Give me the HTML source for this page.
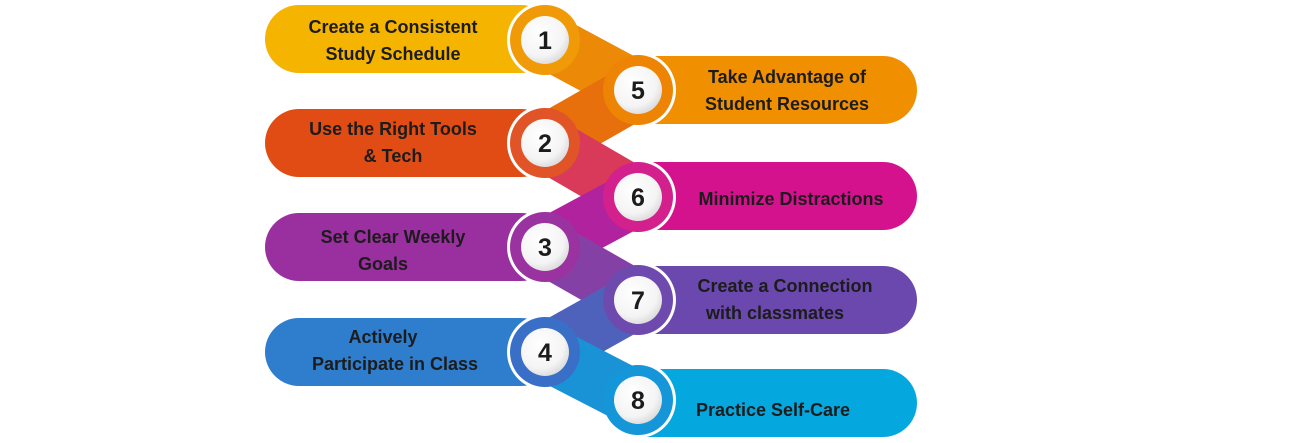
<!DOCTYPE html>
<html><head><style>
html,body{margin:0;padding:0;background:#fff;}
svg{display:block;}
text{font-family:"Liberation Sans",sans-serif;font-weight:bold;fill:#1c1c1c;}
</style></head><body>
<svg width="1296" height="443" viewBox="0 0 1296 443">
<defs>
<radialGradient id="wg" cx="40%" cy="35%" r="70%"><stop offset="0" stop-color="#ffffff"/><stop offset="0.7" stop-color="#f4f4f4"/><stop offset="1" stop-color="#d8d8d8"/></radialGradient>
</defs>
<rect x="265" y="5" width="290" height="68" rx="34" fill="#f4b400"/>
<rect x="265" y="109" width="290" height="68" rx="34" fill="#e04c14"/>
<rect x="265" y="213" width="290" height="68" rx="34" fill="#9a2f9f"/>
<rect x="265" y="318" width="290" height="68" rx="34" fill="#2f7dcd"/>
<rect x="610" y="56" width="307" height="68" rx="34" fill="#f09000"/>
<rect x="610" y="162" width="307" height="68" rx="34" fill="#d4128e"/>
<rect x="610" y="266" width="307" height="68" rx="34" fill="#6a48ad"/>
<rect x="610" y="369" width="307" height="68" rx="34" fill="#04a8df"/>
<g fill="#fff">
<circle cx="545" cy="40" r="38"/><circle cx="638" cy="90" r="38"/>
<circle cx="545" cy="143" r="38"/><circle cx="638" cy="197" r="38"/>
<circle cx="545" cy="247" r="38"/><circle cx="638" cy="300" r="38"/>
<circle cx="545" cy="352" r="38"/><circle cx="638" cy="400" r="38"/>
</g>
<g stroke-width="56" stroke-linecap="butt">
<line x1="545" y1="40" x2="638" y2="90" stroke="#ec8a08"/>
<line x1="638" y1="90" x2="545" y2="143" stroke="#e8700c"/>
<line x1="545" y1="143" x2="638" y2="197" stroke="#d93a5a"/>
<line x1="638" y1="197" x2="545" y2="247" stroke="#b0229e"/>
<line x1="545" y1="247" x2="638" y2="300" stroke="#8540a6"/>
<line x1="638" y1="300" x2="545" y2="352" stroke="#4e62bc"/>
<line x1="545" y1="352" x2="638" y2="400" stroke="#1a92d6"/>
</g>
<g>
<circle cx="545" cy="40" r="35" fill="#ef9a06"/>
<circle cx="638" cy="90" r="35" fill="#ee8404"/>
<circle cx="545" cy="143" r="35" fill="#e05428"/>
<circle cx="638" cy="197" r="35" fill="#d4208c"/>
<circle cx="545" cy="247" r="35" fill="#9a32a0"/>
<circle cx="638" cy="300" r="35" fill="#6e4aae"/>
<circle cx="545" cy="352" r="35" fill="#3a6fc8"/>
<circle cx="638" cy="400" r="35" fill="#1596d8"/>
</g>
<g fill="url(#wg)">
<circle cx="545" cy="40" r="24"/><circle cx="638" cy="90" r="24"/>
<circle cx="545" cy="143" r="24"/><circle cx="638" cy="197" r="24"/>
<circle cx="545" cy="247" r="24"/><circle cx="638" cy="300" r="24"/>
<circle cx="545" cy="352" r="24"/><circle cx="638" cy="400" r="24"/>
</g>
<g font-size="25" text-anchor="middle" style="fill:#111">
<text x="545" y="49">1</text><text x="638" y="99">5</text>
<text x="545" y="152">2</text><text x="638" y="206">6</text>
<text x="545" y="256">3</text><text x="638" y="309">7</text>
<text x="545" y="361">4</text><text x="638" y="409">8</text>
</g>
<g font-size="18" text-anchor="middle">
<text x="393" y="33">Create a Consistent</text>
<text x="393" y="60">Study Schedule</text>
<text x="393" y="135">Use the Right Tools</text>
<text x="393" y="162">&amp; Tech</text>
<text x="393" y="243">Set Clear Weekly</text>
<text x="383" y="270">Goals</text>
<text x="383" y="343">Actively</text>
<text x="395" y="370">Participate in Class</text>
<text x="787" y="83">Take Advantage of</text>
<text x="787" y="110">Student Resources</text>
<text x="791" y="205">Minimize Distractions</text>
<text x="785" y="292">Create a Connection</text>
<text x="775" y="319">with classmates</text>
<text x="773" y="416">Practice Self-Care</text>
</g>
</svg>
</body></html>
